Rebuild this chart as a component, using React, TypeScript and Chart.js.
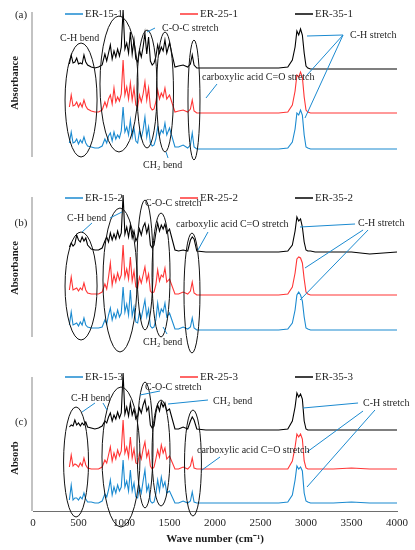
import React, { useEffect, useRef } from 'react';
import { Chart, registerables } from 'chart.js';

Chart.register(...registerables);

// wavenumber grid (cm-1) shared by every trace
const waveNumbers = [
	400, 420, 440, 460, 480, 500, 520, 540, 560, 580,
	600, 640, 680, 720, 760, 790, 810, 830, 850, 870,
	890, 910, 930, 950, 970, 990, 1010, 1030, 1050, 1070,
	1090, 1110, 1130, 1150, 1170, 1190, 1210, 1230, 1250, 1270,
	1290, 1310, 1330, 1350, 1370, 1390, 1410, 1430, 1450, 1470,
	1500, 1560, 1600, 1650, 1700, 1730, 1750, 1770, 1800, 1900,
	2100, 2400, 2700, 2800, 2850, 2880, 2900, 2920, 2940, 2960,
	2980, 3000, 3020, 3050, 3100, 3300, 3500, 3700, 4000
];

// absorbance (offset traces, arbitrary units)
const er15_1 = [
	14, 25, 14, 15, 18, 13, 17, 14, 20, 14,
	11, 10, 9, 9, 11, 18, 14, 21, 24, 16,
	25, 18, 22, 19, 26, 50, 25, 30, 22, 37,
	20, 29, 16, 14, 26, 19, 27, 40, 20, 30,
	14, 11, 12, 18, 30, 21, 27, 24, 34, 22,
	29, 10, 10, 12, 9, 12, 24, 10, 8, 8,
	8, 8, 8, 9, 15, 28, 44, 42, 47, 42,
	22, 10, 9, 8, 8, 8, 8, 8, 8
];
const er25_1 = [
	50, 62, 51, 52, 55, 50, 54, 50, 57, 51,
	48, 46, 45, 45, 47, 55, 50, 58, 62, 53,
	69, 55, 60, 56, 63, 97, 62, 70, 58, 74,
	57, 69, 52, 50, 62, 55, 63, 75, 57, 69,
	50, 47, 48, 55, 67, 58, 64, 60, 69, 58,
	62, 45, 46, 47, 45, 48, 57, 46, 44, 44,
	44, 44, 44, 45, 52, 66, 82, 80, 85, 80,
	60, 47, 45, 44, 44, 44, 44, 44, 44
];
const er35_1 = [
	93, 102, 94, 95, 99, 93, 94, 93, 102, 95,
	92, 90, 89, 90, 92, 103, 96, 104, 112, 98,
	106, 100, 108, 101, 110, 147, 108, 114, 104, 125,
	103, 117, 98, 95, 107, 100, 110, 124, 103, 120,
	96, 92, 94, 100, 112, 104, 110, 106, 117, 104,
	114, 90, 91, 92, 90, 93, 102, 92, 89, 89,
	89, 89, 89, 90, 97, 110, 126, 122, 128, 122,
	104, 91, 89, 88, 88, 88, 88, 88, 88
];
const er15_2 = [
	12, 25, 12, 13, 14, 11, 15, 12, 19, 12,
	10, 9, 9, 9, 10, 17, 13, 22, 29, 17,
	24, 19, 27, 20, 24, 50, 25, 33, 22, 47,
	21, 30, 15, 14, 25, 19, 28, 37, 20, 28,
	11, 9, 10, 17, 34, 21, 28, 25, 34, 20,
	24, 8, 8, 10, 8, 10, 19, 9, 7, 7,
	7, 7, 7, 8, 14, 27, 42, 45, 42, 36,
	20, 9, 8, 7, 7, 7, 7, 7, 7
];
const er25_2 = [
	47, 60, 47, 48, 49, 46, 49, 47, 54, 47,
	44, 43, 43, 43, 45, 53, 48, 60, 74, 52,
	62, 55, 64, 57, 62, 92, 60, 68, 58, 80,
	56, 66, 50, 49, 60, 54, 62, 70, 56, 63,
	46, 44, 45, 52, 67, 56, 62, 60, 69, 55,
	58, 43, 43, 45, 43, 46, 55, 44, 42, 42,
	42, 42, 42, 43, 50, 64, 78, 80, 79, 74,
	58, 45, 43, 42, 42, 42, 42, 42, 42
];
const er35_2 = [
	90, 94, 91, 93, 102, 97, 95, 100, 96, 99,
	92, 88, 87, 87, 89, 96, 100, 95, 104, 97,
	103, 98, 106, 99, 104, 142, 103, 110, 100, 112,
	99, 106, 96, 100, 108, 102, 110, 114, 104, 111,
	92, 89, 92, 104, 114, 106, 112, 108, 113, 104,
	108, 87, 86, 87, 86, 97, 100, 98, 86, 85,
	85, 85, 85, 86, 92, 106, 120, 116, 118, 110,
	95, 87, 86, 86, 85, 85, 85, 83, 85
];
const er15_3 = [
	11, 26, 11, 13, 13, 11, 14, 12, 18, 12,
	9, 9, 8, 8, 10, 17, 14, 21, 31, 16,
	24, 18, 26, 20, 24, 51, 24, 30, 20, 41,
	20, 28, 14, 13, 24, 18, 30, 41, 20, 26,
	10, 8, 9, 17, 31, 20, 34, 24, 29, 18,
	20, 8, 8, 10, 8, 10, 19, 9, 8, 8,
	8, 8, 8, 9, 16, 31, 45, 42, 44, 40,
	18, 10, 9, 8, 8, 8, 9, 8, 8
];
const er25_3 = [
	44, 56, 45, 47, 46, 44, 48, 45, 53, 46,
	43, 42, 42, 42, 44, 51, 48, 56, 64, 50,
	58, 52, 61, 55, 60, 91, 58, 64, 54, 74,
	53, 62, 48, 47, 58, 52, 62, 69, 54, 60,
	45, 42, 44, 52, 61, 54, 66, 58, 63, 52,
	55, 42, 42, 44, 42, 45, 53, 43, 42, 42,
	42, 42, 42, 42, 50, 64, 77, 74, 77, 72,
	50, 43, 42, 42, 42, 42, 43, 42, 42
];
const er35_3 = [
	84, 86, 85, 91, 86, 88, 85, 88, 86, 89,
	84, 83, 82, 83, 85, 90, 88, 94, 98, 90,
	96, 92, 99, 93, 98, 138, 97, 104, 95, 108,
	96, 102, 92, 95, 103, 98, 106, 111, 100, 104,
	86, 83, 85, 98, 106, 100, 109, 104, 108, 100,
	102, 82, 82, 84, 82, 90, 94, 91, 82, 81,
	81, 81, 81, 82, 90, 104, 118, 114, 117, 112,
	90, 82, 81, 81, 81, 81, 81, 81, 81
];

const xTicks = [0, 500, 1000, 1500, 2000, 2500, 3000, 3500, 4000];

// band markers: [wavenumber, value, radius in cm-1, radius in value]
type Ellipse = [number, number, number, number];
type Note = [string, number, number];
type Leader = [number, number, number, number];

const ellipsesA: Ellipse[] = [[528, 57, 176, 57], [945, 73, 209, 68], [1253, 68, 110, 59], [1451, 65, 93, 60], [1769, 57, 66, 60]];
const notesA: Note[] = [
	['C-H bend', 297, 119],
	['C-O-C stretch', 1418, 129],
	['CH\u2082 bend', 1209, -8],
	['carboxylic acid C=O stretch', 1857, 80],
	['C-H stretch', 3484, 122]
];
const leadersA: Leader[] = [
	[1253, 125, 1341, 129],
	[1462, 5, 1484, -1],
	[1901, 59, 2022, 73],
	[3407, 122, 3011, 121],
	[3407, 122, 3011, 82],
	[3407, 122, 2989, 39]
];

const ellipsesB: Ellipse[] = [[528, 51, 176, 54], [956, 57, 187, 72], [1231, 72, 88, 65], [1407, 62, 99, 62], [1747, 44, 88, 60]];
const notesB: Note[] = [
	['C-H bend', 374, 119],
	['C-O-C stretch', 1231, 134],
	['carboxylic acid C=O stretch', 1572, 113],
	['C-H stretch', 3572, 114],
	['CH\u2082 bend', 1209, -5]
];
const leadersB: Leader[] = [
	[648, 114, 539, 105],
	[846, 119, 978, 125],
	[1813, 87, 1923, 105],
	[3539, 113, 2934, 110],
	[3627, 107, 2989, 69],
	[3682, 107, 2934, 37],
	[1429, 10, 1473, 3]
];

const ellipsesC: Ellipse[] = [[473, 49, 137, 55], [967, 54, 209, 70], [1231, 66, 88, 63], [1407, 58, 99, 53], [1758, 48, 93, 53]];
const notesC: Note[] = [
	['C-H bend', 418, 113],
	['C-O-C stretch', 1231, 124],
	['CH\u2082 bend', 1978, 110],
	['carboxylic acid C=O stretch', 1802, 61],
	['C-H stretch', 3627, 108]
];
const leadersC: Leader[] = [
	[539, 99, 681, 108],
	[769, 108, 813, 101],
	[1176, 116, 1396, 120],
	[1484, 107, 1923, 111],
	[1857, 41, 2055, 54],
	[3572, 108, 2967, 103],
	[3627, 100, 3011, 59],
	[3758, 101, 3011, 24]
];

const SERIF = '"Liberation Serif", "Times New Roman", serif';
const BLUE = '#1b8ad0';
const RED = '#ff3535';
const colors = [BLUE, RED, '#000000'];
const legendX = [65, 180, 295];

interface PanelProps {
	tag: string;
	yTitle: string;
	top: number;
	height: number;
	padTop: number;
	padBottom: number;
	yMax: number;
	labels: string[];
	series: number[][];
	ellipses: Ellipse[];
	notes: Note[];
	leaders: Leader[];
	legendY: number;
	tagY: number;
	titleY: number;
	xAxis?: boolean;
}

function SpectrumPanel(p: PanelProps) {
	const chartRef = useRef<HTMLCanvasElement>(null);
	const chartInstance = useRef<Chart | null>(null);

	useEffect(() => {
		if (chartInstance.current) {
			chartInstance.current.destroy();
		}
		if (!chartRef.current) return;

		const overlay = {
			id: 'overlay',
			afterDraw(chart: any) {
				const { ctx, chartArea: area } = chart;
				const x = chart.scales.x;
				const y = chart.scales.y;
				ctx.save();

				// grey value axis
				ctx.strokeStyle = '#a3a3a3';
				ctx.lineWidth = 1.3;
				ctx.beginPath();
				ctx.moveTo(area.left - 1, area.top);
				ctx.lineTo(area.left - 1, area.bottom);
				ctx.stroke();

				// band ellipses
				ctx.strokeStyle = '#111';
				ctx.lineWidth = 1;
				for (const [cx, cy, rx, ry] of p.ellipses) {
					const px = x.getPixelForValue(cx);
					const py = y.getPixelForValue(cy);
					const prx = Math.abs(x.getPixelForValue(cx + rx) - px);
					const pry = Math.abs(y.getPixelForValue(cy + ry) - py);
					ctx.beginPath();
					ctx.ellipse(px, py, prx, pry, 0, 0, Math.PI * 2);
					ctx.stroke();
				}

				// leader lines
				ctx.strokeStyle = BLUE;
				ctx.lineWidth = 1;
				for (const [x1, y1, x2, y2] of p.leaders) {
					ctx.beginPath();
					ctx.moveTo(x.getPixelForValue(x1), y.getPixelForValue(y1));
					ctx.lineTo(x.getPixelForValue(x2), y.getPixelForValue(y2));
					ctx.stroke();
				}

				// band labels
				ctx.fillStyle = '#262626';
				ctx.font = `10px ${SERIF}`;
				ctx.textBaseline = 'middle';
				ctx.textAlign = 'left';
				for (const [text, nx, ny] of p.notes) {
					ctx.fillText(text, x.getPixelForValue(nx), y.getPixelForValue(ny));
				}

				// legend
				ctx.font = `11px ${SERIF}`;
				chart.data.datasets.forEach((ds: any, i: number) => {
					ctx.strokeStyle = ds.borderColor;
					ctx.lineWidth = 1.5;
					ctx.beginPath();
					ctx.moveTo(legendX[i], p.legendY);
					ctx.lineTo(legendX[i] + 18, p.legendY);
					ctx.stroke();
					ctx.fillStyle = '#262626';
					ctx.fillText(ds.label, legendX[i] + 20, p.legendY + 0.5);
				});

				// panel tag
				ctx.font = `11px ${SERIF}`;
				ctx.textAlign = 'center';
				ctx.fillText(p.tag, 21, p.tagY);

				// value axis title
				ctx.translate(15, p.titleY);
				ctx.rotate(-Math.PI / 2);
				ctx.font = `bold 10.5px ${SERIF}`;
				ctx.fillStyle = '#1a1a1a';
				ctx.fillText(p.yTitle, 0, 0);
				ctx.restore();
			}
		};

		chartInstance.current = new Chart(chartRef.current, {
			type: 'line',
			data: {
				datasets: p.series.map((vals, i) => ({
					label: p.labels[i],
					data: waveNumbers.map((w, k) => ({ x: w, y: vals[k] })),
					borderColor: colors[i],
					borderWidth: 1.1,
					pointRadius: 0,
					tension: 0,
					fill: false,
					clip: false as any
				}))
			},
			options: {
				animation: false,
				responsive: true,
				maintainAspectRatio: false,
				events: [],
				layout: { padding: { left: 33, right: 18, top: p.padTop, bottom: p.padBottom } },
				plugins: {
					legend: { display: false },
					tooltip: { enabled: false }
				},
				scales: {
					x: {
						type: 'linear',
						min: 0,
						max: 4000,
						display: !!p.xAxis,
						afterBuildTicks: (s: any) => {
							s.ticks = xTicks.map((v) => ({ value: v }));
						},
						afterFit: (s: any) => {
							if (p.xAxis) s.height = 39;
						},
						ticks: {
							color: '#262626',
							font: { family: SERIF, size: 11 },
							padding: 6,
							maxRotation: 0,
							autoSkip: false,
							callback: (v: any) => String(v)
						},
						grid: { display: false, drawTicks: false },
						border: { display: true, color: '#6e6e6e', width: 1 },
						title: {
							display: true,
							text: 'Wave number (cm\u207B\u00B9)',
							color: '#1a1a1a',
							font: { family: SERIF, size: 11, weight: 'bold' },
							padding: { top: 2, bottom: 4 }
						}
					},
					y: { type: 'linear', display: false, min: 0, max: p.yMax }
				}
			},
			plugins: [overlay]
		});

		return () => {
			if (chartInstance.current) {
				chartInstance.current.destroy();
				chartInstance.current = null;
			}
		};
	}, []);

	return (
		<div style={{ position: 'absolute', left: 0, top: p.top, width: '415px', height: `${p.height}px` }}>
			<canvas ref={chartRef}></canvas>
		</div>
	);
}

export default function App() {
	return (
		<div style={{ position: 'absolute', left: 0, top: 0, width: '415px', height: '550px', background: '#fff' }}>
			<SpectrumPanel
				tag="(a)"
				yTitle="Absorbance"
				top={0}
				height={175}
				padTop={12}
				padBottom={18}
				yMax={145}
				labels={['ER-15-1', 'ER-25-1', 'ER-35-1']}
				series={[er15_1, er25_1, er35_1]}
				ellipses={ellipsesA}
				notes={notesA}
				leaders={leadersA}
				legendY={14}
				tagY={15}
				titleY={83}
			/>
			<SpectrumPanel
				tag="(b)"
				yTitle="Absorbance"
				top={175}
				height={180}
				padTop={22}
				padBottom={18}
				yMax={140}
				labels={['ER-15-2', 'ER-25-2', 'ER-35-2']}
				series={[er15_2, er25_2, er35_2]}
				ellipses={ellipsesB}
				notes={notesB}
				leaders={leadersB}
				legendY={23}
				tagY={48}
				titleY={93}
			/>
			<SpectrumPanel
				tag="(c)"
				yTitle="Absorb"
				top={355}
				height={195}
				padTop={22}
				padBottom={0}
				yMax={134}
				labels={['ER-15-3', 'ER-25-3', 'ER-35-3']}
				series={[er15_3, er25_3, er35_3]}
				ellipses={ellipsesC}
				notes={notesC}
				leaders={leadersC}
				legendY={22}
				tagY={67}
				titleY={103}
				xAxis
			/>
		</div>
	);
}
